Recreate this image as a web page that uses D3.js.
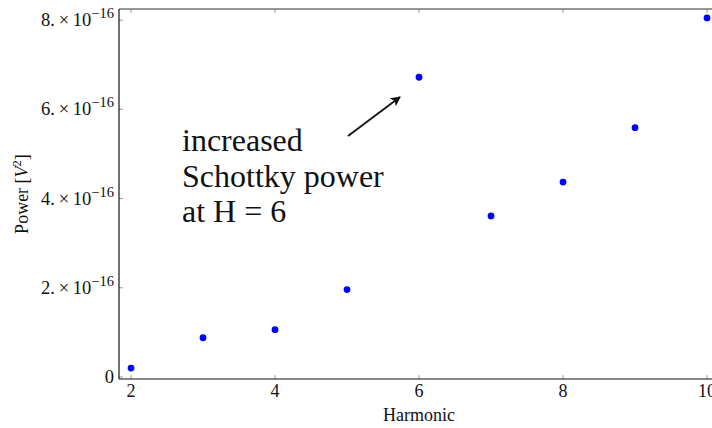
<!DOCTYPE html>
<html>
<head>
<meta charset="utf-8">
<script src="https://cdn.jsdelivr.net/npm/d3@7"></script>
<style>
  html, body { margin: 0; padding: 0; background: #fff; }
  svg { display: block; }
</style>
</head>
<body>
<svg id="chart" width="712" height="428"></svg>
<script>
const harmonics = [2, 3, 4, 5, 6, 7, 8, 9, 10];
const power = [0.20e-16, 0.88e-16, 1.06e-16, 1.96e-16, 6.72e-16, 3.61e-16, 4.37e-16, 5.59e-16, 8.05e-16];
const xTicks = [2, 4, 6, 8, 10];
const yTicks = [0, 2e-16, 4e-16, 6e-16, 8e-16];
const yTickMantissa = ["0", "2.", "4.", "6.", "8."];
const annotationLines = ["increased", "Schottky power", "at H = 6"];

const svg = d3.select("#chart");
const margin = { left: 119, top: 9, bottom: 49 };
const W = 712, H = 428;
const plotRight = 740; // frame continues past the window edge

const x = d3.scaleLinear().domain([1.833, 10.5]).range([margin.left, margin.left + (10.5 - 1.833) * 72]);
const y = d3.scaleLinear().domain([-0.045e-16, 8.25e-16]).range([H - margin.bottom, margin.top]);

const serif = "'Liberation Serif', 'DejaVu Serif', serif";

// ticks (inward, small, on all sides)
const g = svg.append("g");
xTicks.forEach(t => {
  g.append("line").attr("x1", x(t)).attr("x2", x(t)).attr("y1", y.range()[0]).attr("y2", y.range()[0] - 4)
    .attr("stroke", "#999").attr("stroke-width", 1);
  g.append("line").attr("x1", x(t)).attr("x2", x(t)).attr("y1", margin.top).attr("y2", margin.top + 4)
    .attr("stroke", "#999").attr("stroke-width", 1);
});
yTicks.forEach(t => {
  g.append("line").attr("x1", margin.left).attr("x2", margin.left + 4).attr("y1", y(t)).attr("y2", y(t))
    .attr("stroke", "#999").attr("stroke-width", 1);
});

// frame
svg.append("line").attr("x1", margin.left).attr("x2", margin.left).attr("y1", margin.top).attr("y2", y.range()[0])
  .attr("stroke", "#111").attr("stroke-width", 1.2);
svg.append("line").attr("x1", margin.left).attr("x2", plotRight).attr("y1", y.range()[0]).attr("y2", y.range()[0])
  .attr("stroke", "#111").attr("stroke-width", 1.2);
svg.append("line").attr("x1", margin.left).attr("x2", plotRight).attr("y1", margin.top).attr("y2", margin.top)
  .attr("stroke", "#333").attr("stroke-width", 1.2);

// x tick labels
svg.append("g").selectAll("text").data(xTicks).join("text")
  .attr("x", d => x(d)).attr("y", 397)
  .attr("text-anchor", "middle")
  .attr("font-family", serif).attr("font-size", 18).attr("fill", "#111")
  .text(d => d);

// y tick labels
const yl = svg.append("g").selectAll("text").data(yTicks).join("text")
  .attr("x", 114).attr("y", d => y(d) + 6)
  .attr("text-anchor", "end")
  .attr("font-family", serif).attr("font-size", 18.5).attr("fill", "#111");
yl.each(function(d, i) {
  const t = d3.select(this);
  if (d === 0) { t.text("0"); return; }
  t.append("tspan").text(yTickMantissa[i] + "\u2009\u00d7\u200910");
  t.append("tspan").attr("dy", -8).attr("font-size", 14.5).text("\u221216");
});

// axis titles
svg.append("text").attr("x", x(6)).attr("y", 421).attr("text-anchor", "middle")
  .attr("font-family", serif).attr("font-size", 18).attr("fill", "#111").text("Harmonic");

const yt = svg.append("text").attr("transform", "translate(28,194) rotate(-90)").attr("text-anchor", "middle")
  .attr("font-family", serif).attr("font-size", 18).attr("fill", "#111");
yt.append("tspan").text("Power [");
yt.append("tspan").attr("font-style", "italic").text("V");
yt.append("tspan").attr("dy", -7).attr("font-size", 12.5).text("2");
yt.append("tspan").attr("dy", 7).text("]");

// points
svg.append("g").selectAll("circle").data(harmonics).join("circle")
  .attr("cx", d => x(d)).attr("cy", (d, i) => y(power[i]))
  .attr("r", 3.4).attr("fill", "#0000ff");

// annotation
const ann = svg.append("text").attr("font-family", "'Liberation Serif', serif").attr("font-size", 32).attr("fill", "#111");
annotationLines.forEach((l, i) => {
  ann.append("tspan").attr("x", 182).attr("y", 151 + i * 35.5).text(l);
});

// arrow
svg.append("defs").append("marker").attr("id", "ah").attr("viewBox", "0 0 10 10")
  .attr("refX", 9).attr("refY", 5).attr("markerWidth", 10).attr("markerHeight", 10)
  .attr("markerUnits", "userSpaceOnUse").attr("orient", "auto")
  .append("path").attr("d", "M0,0 L10,5 L0,10 L2.5,5 z").attr("fill", "#111");
svg.append("line").attr("x1", 348).attr("y1", 136).attr("x2", 400).attr("y2", 97)
  .attr("stroke", "#111").attr("stroke-width", 1.8).attr("marker-end", "url(#ah)");
</script>
</body>
</html>
